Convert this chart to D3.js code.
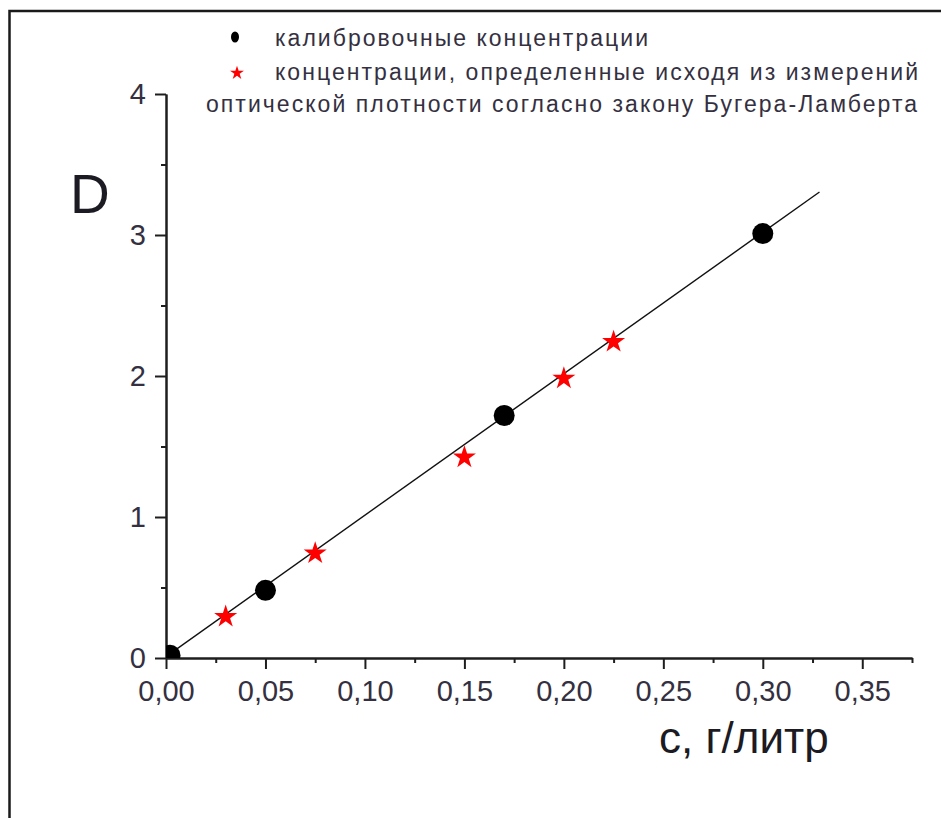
<!DOCTYPE html>
<html>
<head>
<meta charset="utf-8">
<script src="https://cdn.jsdelivr.net/npm/d3@7"></script>
<style>
  html, body { margin: 0; padding: 0; background: #fff; }
  svg { display: block; }
  text { font-family: "Liberation Sans", Arial, sans-serif; }
</style>
</head>
<body>
<svg id="chart" width="941" height="818"></svg>
<script>
// ---- data ----
const calibC = [0.002, 0.05, 0.17, 0.30];
const calibD = [0.02, 0.48, 1.72, 3.01];
const measC = [0.03, 0.075, 0.15, 0.20, 0.225];
const measD = [0.30, 0.75, 1.43, 1.99, 2.25];
const fitC = [0, 0.3285];
const fitD = [0.01, 3.305];
const xTicks = [0, 0.05, 0.10, 0.15, 0.20, 0.25, 0.30, 0.35];
const xTickLabels = ["0,00", "0,05", "0,10", "0,15", "0,20", "0,25", "0,30", "0,35"];
const xMinor = [0.025, 0.075, 0.125, 0.175, 0.225, 0.275, 0.325, 0.375];
const yTicks = [0, 1, 2, 3, 4];
const yTickLabels = ["0", "1", "2", "3", "4"];
const yMinor = [0.5, 1.5, 2.5, 3.5];
const legendLabels = [
  "калибровочные концентрации",
  "концентрации, определенные исходя из измерений",
  "оптической плотности согласно закону Бугера-Ламберта"
];
const xTitle = "с, г/литр";
const yTitle = "D";

// ---- layout ----
const svg = d3.select("#chart");
const x = d3.scaleLinear().domain([0, 0.375]).range([166, 912]);
const y = d3.scaleLinear().domain([0, 4]).range([658, 94]);
const axisColor = "#1e1e1e";
const textColor = "#34303f";

// frame
svg.append("path")
  .attr("d", "M9.5,818 L9.5,11 L941,11")
  .attr("fill", "none").attr("stroke", "#1a1a1a").attr("stroke-width", 2.5);

// clip
svg.append("clipPath").attr("id", "plotclip")
  .append("rect").attr("x", x(0)).attr("y", y(4) - 20)
  .attr("width", x(0.375) - x(0) + 20).attr("height", y(0) - y(4) + 20);

// minor ticks
const gxm = svg.append("g").attr("transform", `translate(0,${y(0)})`)
  .call(d3.axisBottom(x).tickValues(xMinor).tickSize(5).tickSizeOuter(0).tickFormat(""));
const gym = svg.append("g").attr("transform", `translate(${x(0)},0)`)
  .call(d3.axisLeft(y).tickValues(yMinor).tickSize(5).tickSizeOuter(0).tickFormat(""));

// major axes
const gx = svg.append("g").attr("transform", `translate(0,${y(0)})`)
  .call(d3.axisBottom(x).tickValues(xTicks).tickSize(11).tickSizeOuter(0)
    .tickFormat((d, i) => xTickLabels[i]));
const gy = svg.append("g").attr("transform", `translate(${x(0)},0)`)
  .call(d3.axisLeft(y).tickValues(yTicks).tickSize(11).tickSizeOuter(0)
    .tickFormat((d, i) => yTickLabels[i]));

[gxm, gym, gx, gy].forEach(g => {
  g.selectAll("path.domain").attr("stroke", axisColor).attr("stroke-width", 2);
  g.selectAll(".tick line").attr("stroke", axisColor).attr("stroke-width", 2);
});
gx.selectAll(".tick text")
  .attr("fill", textColor).attr("font-size", 29)
  .attr("font-family", "Liberation Sans, Arial, sans-serif")
  .attr("dy", null).attr("y", 43);
gy.selectAll(".tick text")
  .attr("fill", textColor).attr("font-size", 29)
  .attr("font-family", "Liberation Sans, Arial, sans-serif")
  .attr("dy", null).attr("x", -20).attr("y", 9);

// axis titles
svg.append("text").attr("x", 70).attr("y", 213)
  .attr("font-size", 55).attr("fill", "#1c1a22").text(yTitle);
svg.append("text").attr("x", 659).attr("y", 753)
  .attr("font-size", 44).attr("fill", "#1c1a22").text(xTitle);

// fit line
const plot = svg.append("g").attr("clip-path", "url(#plotclip)");
const line = d3.line().x(d => x(d[0])).y(d => y(d[1]));
plot.append("path")
  .datum(fitC.map((c, i) => [c, fitD[i]]))
  .attr("d", line)
  .attr("fill", "none").attr("stroke", "#111").attr("stroke-width", 1.4);

// calibration points
plot.selectAll("circle.calib")
  .data(calibC.map((c, i) => [c, calibD[i]]))
  .enter().append("circle").attr("class", "calib")
  .attr("cx", d => x(d[0])).attr("cy", d => y(d[1]))
  .attr("r", 10.5).attr("fill", "#000");

// measured points (stars)
const star = d3.symbol().type(d3.symbolStar).size(165);
plot.selectAll("path.meas")
  .data(measC.map((c, i) => [c, measD[i]]))
  .enter().append("path").attr("class", "meas")
  .attr("d", star)
  .attr("transform", d => `translate(${x(d[0])},${y(d[1]) + 1})`)
  .attr("fill", "#ff0000");

// legend
svg.append("ellipse").attr("cx", 235).attr("cy", 37).attr("rx", 4).attr("ry", 5.5).attr("fill", "#000");
svg.append("path").attr("d", d3.symbol().type(d3.symbolStar).size(60))
  .attr("transform", "translate(237,73)").attr("fill", "#ff0000");

const legendPos = [
  {x: 275, y: 46, w: 373},
  {x: 275, y: 80, w: 643},
  {x: 206, y: 112, w: 711}
];
legendLabels.forEach((t, i) => {
  svg.append("text")
    .attr("x", legendPos[i].x).attr("y", legendPos[i].y)
    .attr("font-size", 23).attr("fill", textColor)
    .attr("textLength", legendPos[i].w).attr("lengthAdjust", "spacing")
    .text(t);
});
</script>
</body>
</html>
